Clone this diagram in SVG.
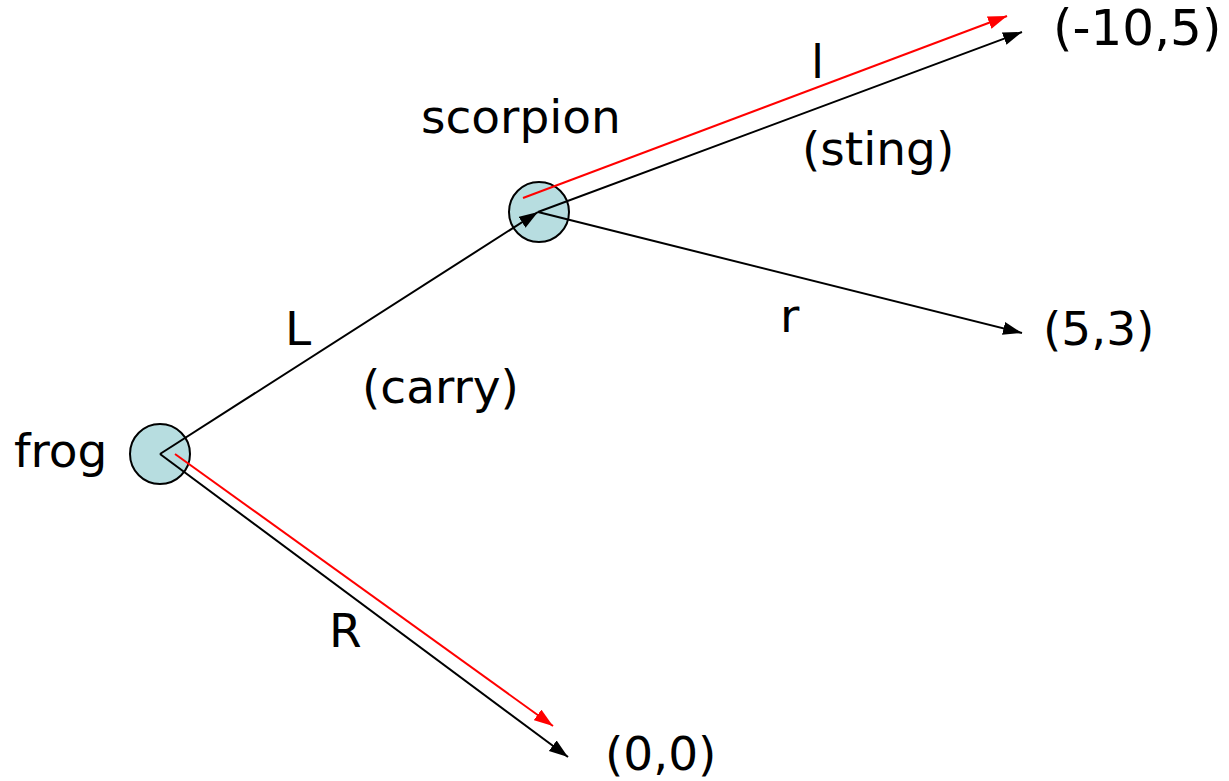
<svg xmlns="http://www.w3.org/2000/svg" width="1229" height="781" viewBox="0 0 1229 781">
<style>
.t{font-family:"DejaVu Sans",Verdana,sans-serif;font-size:47px;fill:#000}
.e{stroke:#000;stroke-width:2;fill:none}
.er{stroke:#ff0000;stroke-width:2;fill:none}
.n{fill:#b7dde0;stroke:#000;stroke-width:2}
</style>
<defs>
<marker id="ab" markerUnits="userSpaceOnUse" markerWidth="20" markerHeight="14" refX="19" refY="6.5" orient="auto"><path d="M0,0 L19,6.5 L0,13 Z" fill="#000"/></marker>
<marker id="ar" markerUnits="userSpaceOnUse" markerWidth="20" markerHeight="14" refX="19" refY="6.5" orient="auto"><path d="M0,0 L19,6.5 L0,13 Z" fill="#ff0000"/></marker>
</defs>
<g id="node-frog"><circle class="n" cx="160" cy="454" r="30"/><text class="t" x="14" y="467">frog</text></g>
<g id="node-scorpion"><circle class="n" cx="539" cy="212" r="30"/><text class="t" x="421" y="133">scorpion</text></g>
<g id="node-leaf1"><text class="t" x="1053" y="45" style="font-size:50px">(-10,5)</text></g>
<g id="node-leaf2"><text class="t" x="1043" y="345">(5,3)</text></g>
<g id="node-leaf3"><text class="t" x="605" y="770">(0,0)</text></g>
<g id="connectors">
<line class="e" x1="160" y1="454" x2="538" y2="212" marker-end="url(#ab)"/>
<line class="e" x1="538" y1="212" x2="1022" y2="32" marker-end="url(#ab)"/>
<line class="er" x1="523" y1="198" x2="1007" y2="16" marker-end="url(#ar)"/>
<line class="e" x1="538" y1="212" x2="1022" y2="333" marker-end="url(#ab)"/>
<line class="e" x1="160" y1="454" x2="568" y2="757" marker-end="url(#ab)"/>
<line class="er" x1="175" y1="454" x2="553" y2="726" marker-end="url(#ar)"/>
<text class="t" x="285" y="345">L</text>
<text class="t" x="362" y="403">(carry)</text>
<text class="t" x="329" y="647">R</text>
<text class="t" x="780" y="332">r</text>
<text class="t" x="811" y="78">l</text>
<text class="t" x="802" y="165">(sting)</text>
</g>
</svg>
